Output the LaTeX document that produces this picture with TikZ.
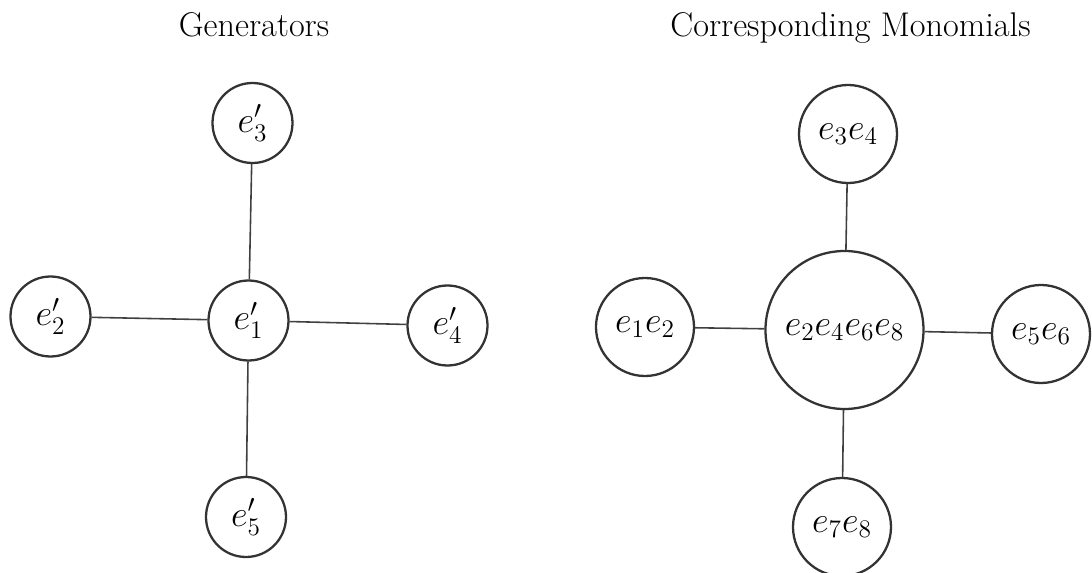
\documentclass[tikz,border=0pt]{standalone}

\tikzstyle{gen} = [circle, draw=black!80, line width=.13em, minimum size=1.6cm, inner sep=0pt, font=\fontsize{20}{24}\selectfont]
\tikzstyle{mono} = [circle, draw=black!80, line width=.13em, minimum size=1.96cm, inner sep=0pt, font=\fontsize{20}{24}\selectfont]
\tikzstyle{title} = [anchor=base, font=\fontsize{19.5}{24}\selectfont]
\tikzstyle{line} = [draw=black!75, line width=.09em]

\begin{document}
\begin{tikzpicture}[node distance = 3.95cm, auto]

    \useasboundingbox (0,0) rectangle (21.84,-11.46);

    % Generators
    \node [title] (gentitle) at (5.08,-0.72) {Generators};
    \node [gen] (g1) at (4.97,-6.41) {$e'_1$};
    \node [gen, above of=g1, xshift=0.08cm] (g3) {$e'_3$};
    \node [gen, left of=g1, node distance=3.96cm, yshift=0.08cm] (g2) {$e'_2$};
    \node [gen, right of=g1, node distance=3.98cm, yshift=-0.1cm] (g4) {$e'_4$};
    \node [gen, below of=g1, node distance=3.93cm, xshift=-0.05cm] (g5) {$e'_5$};

    % Corresponding monomials
    \node [title] (montitle) at (17.01,-0.72) {Corresponding Monomials};
    \node [mono, minimum size=3.16cm] (m0) at (16.89,-6.60) {$e_2e_4e_6e_8$};
    \node [mono, above of=m0, node distance=3.92cm, xshift=0.07cm] (m34) {$e_3e_4$};
    \node [mono, left of=m0, node distance=3.99cm, yshift=0.06cm] (m12) {$e_1e_2$};
    \node [mono, right of=m0, node distance=3.93cm, yshift=-0.08cm] (m56) {$e_5e_6$};
    \node [mono, below of=m0, node distance=3.94cm, xshift=-0.05cm] (m78) {$e_7e_8$};

    % Path
    \path[line] (g1) -- (g3);
    \path[line] (g1) -- (g2);
    \path[line] (g1) -- (g4);
    \path[line] (g1) -- (g5);
    \path[line] (m0) -- (m34);
    \path[line] (m0) -- (m12);
    \path[line] (m0) -- (m56);
    \path[line] (m0) -- (m78);

\end{tikzpicture}
\end{document}
